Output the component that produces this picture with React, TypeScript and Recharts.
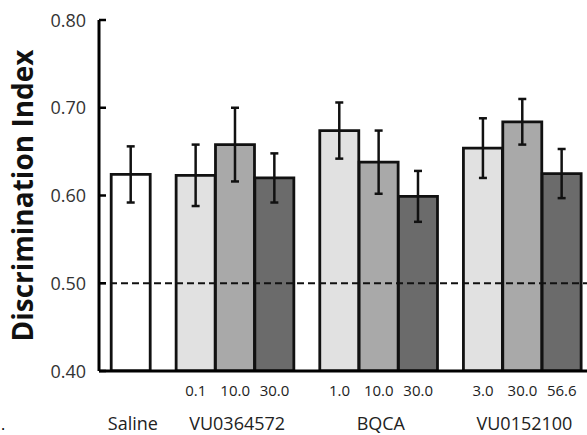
import { BarChart, Bar, XAxis, YAxis, ErrorBar, Cell, ReferenceLine, Label } from "recharts";

const groups = ["Saline", "VU0364572", "BQCA", "VU0152100"];
const doses = [[""], ["0.1", "10.0", "30.0"], ["1.0", "10.0", "30.0"], ["3.0", "30.0", "56.6"]];
const means = [[0.624], [0.623, 0.658, 0.62], [0.674, 0.638, 0.599], [0.654, 0.684, 0.625]];
const sems = [[0.032], [0.035, 0.042, 0.028], [0.032, 0.036, 0.029], [0.034, 0.026, 0.028]];
const yTicks = [0.4, 0.5, 0.6, 0.7, 0.8];
const chanceLevel = 0.5;

const salineFill = "#ffffff";
const doseFills = ["#e1e1e1", "#a9a9a9", "#6b6b6b"];
const FONT = "'Open Sans', sans-serif";

// x positions are in bar-width units: bars touch inside a group, gap between groups
const LEFT_PAD = 0.31;
const GROUP_GAP = 0.65;
const X_MAX = 12.4;

type Row = { pos: number; value: number; err: number; gi: number; di: number };
const rows: Row[] = [];
let start = LEFT_PAD;
groups.forEach((_, gi) => {
  doses[gi].forEach((_, di) => {
    rows.push({ pos: start + di + 0.5, value: means[gi][di], err: sems[gi][di], gi, di });
  });
  start += doses[gi].length + GROUP_GAP;
});

// eslint-disable-next-line @typescript-eslint/no-explicit-any
function XTick({ x, y, payload }: any) {
  const row = rows.find((r) => Math.abs(r.pos - payload.value) < 1e-6);
  if (!row) return null;
  const n = doses[row.gi].length;
  const showGroup = row.di === Math.floor(n / 2);
  return (
    <g>
      <text x={x} y={y + 25} textAnchor="middle" fontSize={15} fill="#222" fontFamily={FONT}>
        {doses[row.gi][row.di]}
      </text>
      {showGroup && (
        <text x={x + 2} y={y + 59} textAnchor="middle" fontSize={18} fill="#222" fontFamily={FONT}>
          {groups[row.gi]}
        </text>
      )}
    </g>
  );
}

// eslint-disable-next-line @typescript-eslint/no-explicit-any
function YTick({ x, y, payload }: any) {
  return (
    <g>
      <line x1={x + 13} x2={x + 20} y1={y} y2={y} stroke="#000" strokeWidth={2.5} />
      <text x={x} y={y} dy={6.5} textAnchor="end" fontSize={18} fill="#333" fontFamily={FONT}>
        {Number(payload.value).toFixed(2)}
      </text>
    </g>
  );
}

// eslint-disable-next-line @typescript-eslint/no-explicit-any
function YLabel({ viewBox }: any) {
  const cx = viewBox.x + 33;
  const cy = viewBox.y + viewBox.height / 2;
  return (
    <text
      x={cx}
      y={cy}
      transform={`rotate(-90, ${cx}, ${cy})`}
      textAnchor="middle"
      fontSize={28}
      fontWeight={700}
      fill="#111"
      fontFamily={FONT}
    >
      Discrimination Index
    </text>
  );
}

export default function App() {
  return (
    <div style={{ position: "absolute", left: 0, top: 0, width: 587, height: 435, background: "#fff" }}>
      <BarChart width={587} height={435} data={rows} margin={{ top: 20, right: 0, bottom: 0, left: 0 }}>
        <XAxis
          type="number"
          dataKey="pos"
          domain={[0, X_MAX]}
          ticks={rows.map((r) => r.pos)}
          interval={0}
          height={64}
          tickSize={0}
          tickMargin={0}
          tick={<XTick />}
          axisLine={{ stroke: "#000", strokeWidth: 3 }}
          tickLine={false}
        />
        <YAxis
          type="number"
          domain={[0.4, 0.8]}
          ticks={yTicks}
          width={99}
          tickSize={0}
          tickMargin={13}
          tick={<YTick />}
          axisLine={{ stroke: "#000", strokeWidth: 3 }}
          tickLine={false}
          allowDataOverflow
        >
          <Label content={<YLabel />} />
        </YAxis>
        <Bar dataKey="value" barSize={39} stroke="#111" strokeWidth={2.8} isAnimationActive={false}>
          {rows.map((r, i) => (
            <Cell key={i} fill={r.gi === 0 ? salineFill : doseFills[r.di]} />
          ))}
          <ErrorBar dataKey="err" width={4} stroke="#111" strokeWidth={2.5} direction="y" />
        </Bar>
        <ReferenceLine y={chanceLevel} stroke="#111" strokeWidth={2} strokeDasharray="7 4" />
      </BarChart>
      <span style={{ position: "absolute", left: 1, top: 414, fontSize: 16, lineHeight: "20px", fontFamily: FONT, color: "#000" }}>.</span>
    </div>
  );
}
